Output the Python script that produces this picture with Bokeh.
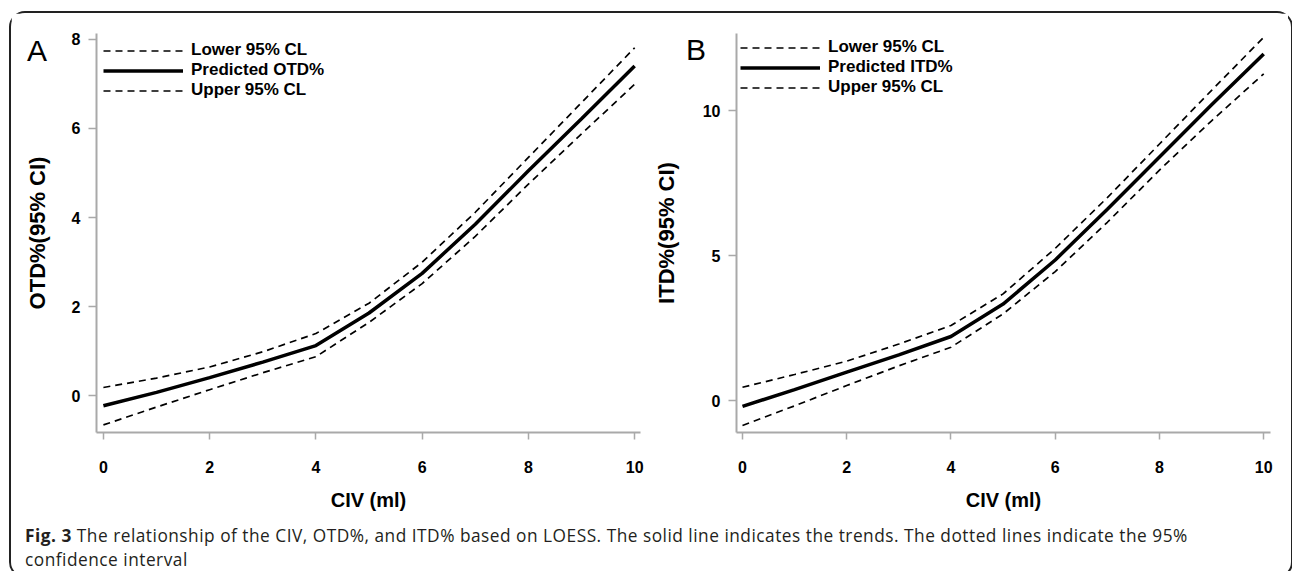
from bokeh.plotting import figure
from bokeh.models import FixedTicker, Range1d, Div, Legend
from bokeh.layouts import row, column
from bokeh.embed import file_html
from bokeh.resources import INLINE

# ---------------- data ----------------
civ = [0, 1, 2, 3, 4, 5, 6, 7, 8, 9, 10]

otd_pred  = [-0.22, 0.08, 0.41, 0.76, 1.13, 1.86, 2.75, 3.85, 5.05, 6.22, 7.40]
otd_upper = [0.19, 0.40, 0.65, 0.99, 1.40, 2.08, 3.00, 4.12, 5.35, 6.58, 7.81]
otd_lower = [-0.65, -0.25, 0.14, 0.52, 0.88, 1.65, 2.52, 3.58, 4.75, 5.88, 6.99]

itd_pred  = [-0.20, 0.38, 0.98, 1.58, 2.21, 3.33, 4.85, 6.60, 8.40, 10.20, 11.95]
itd_upper = [0.46, 0.90, 1.36, 1.95, 2.59, 3.68, 5.25, 7.00, 8.85, 10.70, 12.53]
itd_lower = [-0.86, -0.18, 0.52, 1.20, 1.84, 2.99, 4.45, 6.15, 7.95, 9.65, 11.27]

x_ticks = [0, 2, 4, 6, 8, 10]
otd_ticks = [0, 2, 4, 6, 8]
itd_ticks = [0, 5, 10]

panel_letters = ["A", "B"]
caption_bold = "Fig. 3"
caption_line1 = ("The relationship of the CIV, OTD%, and ITD% based on LOESS. "
                 "The solid line indicates the trends. The dotted lines indicate the 95%")
caption_line2 = "confidence interval"

FONT = "Liberation Sans"
AXIS_GRAY = "#a9a9a9"


def make_panel(pred, upper, lower, ylabel, pred_label,
               y_range, x_range, yticks, width, height, mb_left, mb_right,
               mb_top, mb_bottom, leg_margin, leg_padding, ylab_standoff):
    p = figure(width=width, height=height, output_backend="svg", title=None,
               toolbar_location=None, x_range=Range1d(*x_range),
               y_range=Range1d(*y_range), min_border_left=mb_left,
               min_border_right=mb_right, min_border_top=mb_top,
               min_border_bottom=mb_bottom)
    p.outline_line_color = None
    p.grid.visible = False
    p.background_fill_color = "white"
    p.border_fill_color = "white"

    r1 = p.line(civ, lower, line_color="black", line_width=1.7, line_dash="7 5")
    r2 = p.line(civ, pred, line_color="black", line_width=3.5)
    r3 = p.line(civ, upper, line_color="black", line_width=1.7, line_dash="7 5")

    legend = Legend(items=[("Lower 95% CL", [r1]), (pred_label, [r2]),
                           ("Upper 95% CL", [r3])], location="top_left")
    legend.glyph_width = 80
    legend.glyph_height = 17
    legend.label_height = 17
    legend.spacing = 0
    legend.label_standoff = 8
    legend.margin = leg_margin
    legend.padding = leg_padding
    legend.border_line_alpha = 0
    legend.background_fill_alpha = 0
    legend.label_text_font = FONT
    legend.label_text_font_style = "bold"
    legend.label_text_font_size = "17px"
    legend.label_text_color = "black"
    p.add_layout(legend)

    for ax in (p.xaxis[0], p.yaxis[0]):
        ax.axis_line_color = AXIS_GRAY
        ax.axis_line_width = 2
        ax.major_tick_line_color = AXIS_GRAY
        ax.major_tick_line_width = 1.5
        ax.major_tick_in = 0
        ax.minor_tick_line_color = None
        ax.major_label_text_font = FONT
        ax.major_label_text_font_style = "bold"
        ax.major_label_text_font_size = "16px"
        ax.major_label_text_color = "black"
        ax.axis_label_text_font = FONT
        ax.axis_label_text_font_style = "bold"
        ax.axis_label_text_color = "black"

    p.xaxis.ticker = FixedTicker(ticks=x_ticks)
    p.xaxis.major_tick_out = 7
    p.xaxis.major_label_standoff = 21
    p.xaxis.axis_label = "CIV (ml)"
    p.xaxis.axis_label_text_font_size = "20px"
    p.xaxis.axis_label_standoff = 13

    p.yaxis.ticker = FixedTicker(ticks=yticks)
    p.yaxis.major_tick_out = 8
    p.yaxis.major_label_standoff = 8
    p.yaxis.axis_label = ylabel
    p.yaxis.axis_label_text_font_size = "22px"
    p.yaxis.axis_label_standoff = ylab_standoff
    return p


pA = make_panel(otd_pred, otd_upper, otd_lower,
                "OTD%(95% CI)", "Predicted OTD%",
                y_range=(-0.82, 8.13), x_range=(-0.13, 10.11), yticks=otd_ticks,
                width=639, height=509, mb_left=85, mb_right=10,
                mb_top=20, mb_bottom=90, leg_margin=2, leg_padding=5,
                ylab_standoff=19)

pB = make_panel(itd_pred, itd_upper, itd_lower,
                "ITD%(95% CI)", "Predicted ITD%",
                y_range=(-1.10, 12.66), x_range=(-0.115, 10.13), yticks=itd_ticks,
                width=638, height=509, mb_left=86, mb_right=18,
                mb_top=20, mb_bottom=90, leg_margin=0, leg_padding=4,
                ylab_standoff=21)

letters = Div(
    text=('<div style="position:relative; left:11px; top:18px; '
          "font-family:'Liberation Sans'; font-size:30px; line-height:30px; "
          'color:black; white-space:nowrap;">'
          '<span style="display:inline-block; width:659px">%s</span>'
          '<span style="position:relative; top:-1px">%s</span></div>'
          % (panel_letters[0], panel_letters[1])),
    width=1270, height=40,
    styles={"position": "absolute", "left": "0px", "top": "0px",
            "z-index": "5", "overflow": "visible"})

caption = Div(
    text=('<div style="height:23.5px; white-space:nowrap"><b>%s</b> %s</div>'
          '<div style="height:23.5px; white-space:nowrap">%s</div>'
          % (caption_bold, caption_line1, caption_line2)),
    width=1270, height=47,
    styles={"font-family": "'Open Sans'", "font-size": "17.3px",
            "letter-spacing": "0.5px",
            "line-height": "23.5px", "color": "#231f20",
            "padding-left": "9px", "margin-top": "2px"})

layout = column(letters, row(pA, pB), caption,
                styles={"border": "2px solid #222", "border-radius": "16px",
                        "background-color": "white", "position": "relative",
                        "margin-left": "9px", "margin-top": "11px"})

open("out.html", "w").write(file_html(layout, INLINE))
